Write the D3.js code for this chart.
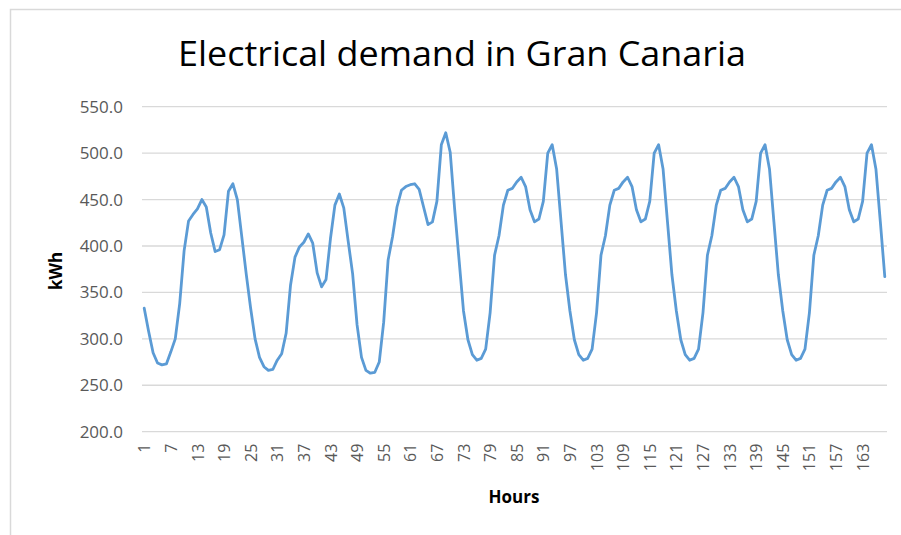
<!DOCTYPE html>
<html>
<head>
<meta charset="utf-8">
<script src="https://cdn.jsdelivr.net/npm/d3@7"></script>
<style>
  body { margin: 0; background: #fff; }
  text { font-family: "Open Sans", "Noto Sans", sans-serif; }
</style>
</head>
<body>
<script>
// hourly demand, one array per day (kWh)
var dayOne   = [333, 308, 285, 274, 272, 273, 286, 300, 338, 395, 427, 434, 440, 450, 442, 414, 394, 396, 412, 459, 467, 450, 410, 370];
var dayTwo   = [333, 300, 280, 270, 266, 267, 277, 284, 306, 358, 388, 399, 404, 413, 403, 371, 356, 364, 408, 444, 456, 441, 405, 370];
var dayThree = [315, 280, 266, 263, 264, 275, 318, 385, 410, 442, 460, 464, 466, 467, 461, 442, 423, 426, 448, 509, 522, 501, 440, 385];
var dayFour  = [330, 299, 283, 277, 279, 289, 328, 390, 411, 444, 460, 462, 469, 474, 464, 439, 426, 429, 448, 500, 509, 483, 426, 369];
var dayFive  = [330, 299, 283, 277, 279, 289, 328, 390, 411, 444, 460, 462, 469, 474, 464, 439, 426, 429, 448, 500, 509, 483, 426, 369];
var daySix   = [330, 299, 283, 277, 279, 289, 328, 390, 411, 444, 460, 462, 469, 474, 464, 439, 426, 429, 448, 500, 509, 483, 426, 369];
var daySeven = [330, 299, 283, 277, 279, 289, 328, 390, 411, 444, 460, 462, 469, 474, 464, 439, 426, 429, 448, 500, 509, 483, 426, 367];

var hourTicks = [1, 7, 13, 19, 25, 31, 37, 43, 49, 55, 61, 67, 73, 79, 85, 91, 97, 103, 109, 115, 121, 127, 133, 139, 145, 151, 157, 163];
var demandTicks = [200, 250, 300, 350, 400, 450, 500, 550];

var demand = [].concat(dayOne, dayTwo, dayThree, dayFour, dayFive, daySix, daySeven);
var hours = demand.map(function(d, i) { return i + 1; });
var data = hours.map(function(h, i) { return { hour: h, kwh: demand[i] }; });

var width = 901, height = 535;
var margin = { top: 106.7, right: 14, bottom: 103.3, left: 142 };

var svg = d3.select("body").append("svg")
  .attr("width", width)
  .attr("height", height);

// chart frame
svg.append("rect")
  .attr("x", 10.5).attr("y", 9.5)
  .attr("width", 900).attr("height", 540)
  .attr("fill", "none")
  .attr("stroke", "#d9d9d9")
  .attr("stroke-width", 1.5);

var x = d3.scaleBand()
  .domain(hours)
  .range([margin.left, width - margin.right])
  .padding(0);

var y = d3.scaleLinear()
  .domain([200, 550])
  .range([height - margin.bottom, margin.top]);

// gridlines
svg.append("g")
  .selectAll("line")
  .data(demandTicks)
  .enter().append("line")
  .attr("x1", margin.left)
  .attr("x2", width - margin.right)
  .attr("y1", function(d) { return y(d); })
  .attr("y2", function(d) { return y(d); })
  .attr("stroke", "#d9d9d9")
  .attr("stroke-width", 1.3);

// y axis labels
var yAxis = svg.append("g")
  .attr("transform", "translate(" + margin.left + ",0)")
  .call(d3.axisLeft(y).tickValues(demandTicks).tickSize(0).tickPadding(19)
    .tickFormat(d3.format(".1f")));
yAxis.select(".domain").remove();
yAxis.selectAll("text")
  .attr("fill", "#595959")
  .style("font-size", "17px");

// x axis labels, rotated
var xAxis = svg.append("g")
  .attr("transform", "translate(0," + y(200) + ")")
  .call(d3.axisBottom(x).tickValues(hourTicks).tickSize(0));
xAxis.select(".domain").remove();
xAxis.selectAll("text")
  .attr("fill", "#595959")
  .style("font-size", "16px")
  .attr("text-anchor", "end")
  .attr("transform", "rotate(-90)")
  .attr("x", -12)
  .attr("y", 0)
  .attr("dy", "0.38em");

// the line
var valueline = d3.line()
  .x(function(d) { return x(d.hour) + x.bandwidth() / 2; })
  .y(function(d) { return y(d.kwh); });

svg.append("path")
  .datum(data)
  .attr("fill", "none")
  .attr("stroke", "#5b9bd5")
  .attr("stroke-width", 2.8)
  .attr("stroke-linejoin", "round")
  .attr("stroke-linecap", "round")
  .attr("d", valueline);

// title
svg.append("text")
  .attr("x", 462)
  .attr("y", 66)
  .attr("text-anchor", "middle")
  .attr("textLength", 568)
  .attr("lengthAdjust", "spacingAndGlyphs")
  .style("font-size", "34px")
  .attr("fill", "#000")
  .text("Electrical demand in Gran Canaria");

// axis titles
svg.append("text")
  .attr("transform", "translate(62,271) rotate(-90)")
  .attr("text-anchor", "middle")
  .style("font-size", "17px")
  .style("font-weight", "bold")
  .attr("fill", "#000")
  .text("kWh");

svg.append("text")
  .attr("x", 514)
  .attr("y", 503)
  .attr("text-anchor", "middle")
  .style("font-size", "17px")
  .style("font-weight", "bold")
  .attr("fill", "#000")
  .text("Hours");
</script>
</body>
</html>
